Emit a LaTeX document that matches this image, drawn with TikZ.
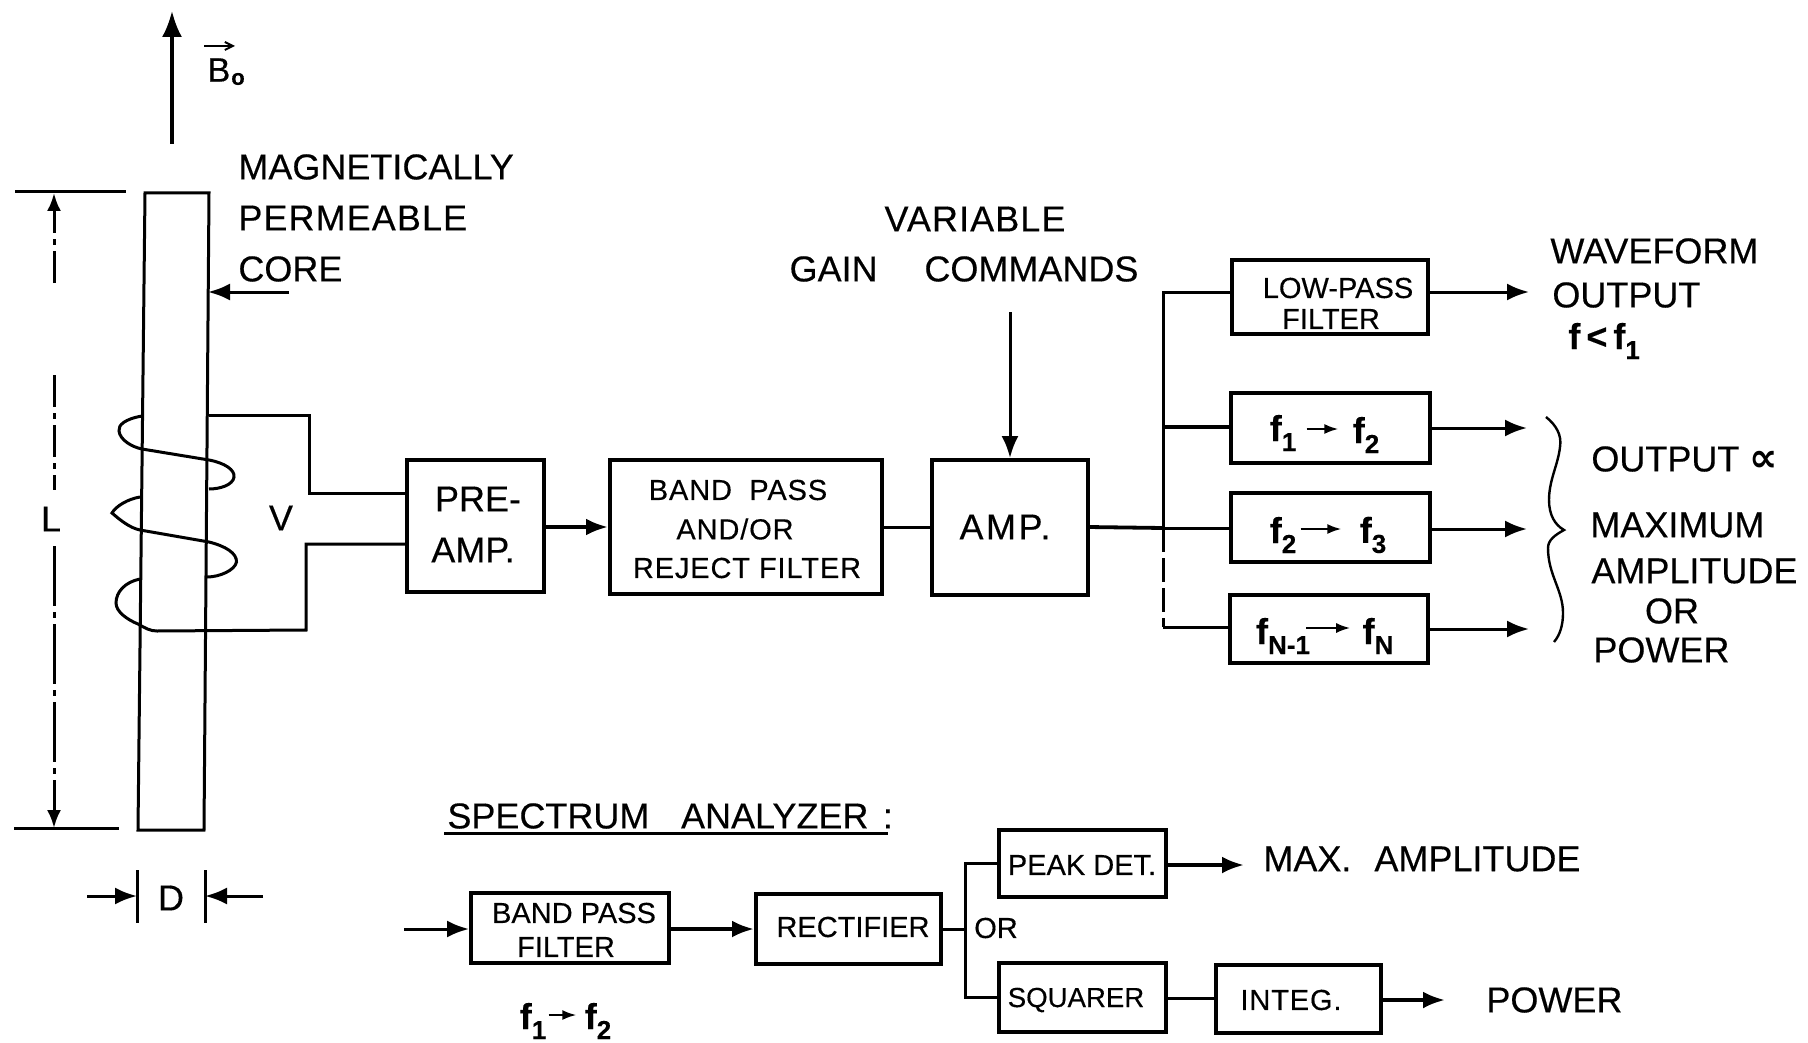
\documentclass[tikz,border=0pt]{standalone}
\usepackage{fontspec}
\setmainfont{Liberation Sans}[FakeBold=0.35]
\newfontfamily\symfont{DejaVu Sans}
\usetikzlibrary{arrows.meta,fit}
\newcommand\ssb[1]{\raisebox{-5pt}{\fontsize{13}{14}\selectfont #1}}
\newcommand\pbox[6]{\path (#2,#3) coordinate (#1-a) (#4,#5) coordinate (#1-b);\node[bx,fit=(#1-a)(#1-b)] (#1) {};#6}
\tikzset{
  wire/.style={line width=1.5pt,line join=miter},
  arr/.style={wire,-{Latex[length=11pt,width=8.5pt]}},
  sarr/.style={line width=1.1pt,-{Latex[length=7pt,width=5pt]}},
  bx/.style={draw,line width=2pt,inner sep=0pt,rectangle},
  big/.style={inner sep=0pt,font=\fontsize{18}{20}\selectfont},
  bigs/.style={inner sep=0pt,font=\fontsize{18}{20}\selectfont\addfontfeature{LetterSpace=3}},
  mid/.style={inner sep=0pt,font=\fontsize{14.5}{16}\selectfont},
  mids/.style={inner sep=0pt,font=\fontsize{14.5}{16}\selectfont\addfontfeature{LetterSpace=3}},
  ff/.style={inner sep=0pt,font=\fontsize{18}{20}\selectfont\bfseries},
}
\begin{document}
\begin{tikzpicture}[x=0.5pt,y=-0.5pt]
\useasboundingbox (0,0) rectangle (1808,1043);
% field arrow
\coordinate (b0s) at (172,144); \coordinate (b0e) at (172,11);
\draw[line width=1.6pt,-{Latex[length=13pt,width=10pt]}] (b0s) -- (b0e);
\node[big,font=\fontsize{17}{20}\selectfont] (bo) at (219,70) {B};
\node[inner sep=0pt,font=\fontsize{11}{12}\selectfont\bfseries] (boo) at (238,79) {o};
\coordinate (bva) at (204,46); \coordinate (bvb) at (235,46);
\draw[line width=1pt,-{Straight Barb[length=4pt,width=4pt]}] (bva) -- (bvb);
% core
\draw[wire] (145,193) -- (209,193) -- (204,830) -- (138,830) -- cycle;
\node[big,anchor=west] (mag) at (238,167) {MAGNETICALLY};
\node[bigs,anchor=west] (perm) at (238,218) {PERMEABLE};
\node[big,anchor=west] (corel) at (238,269) {CORE};
\coordinate (cs) at (289,292); \coordinate (ce) at (208,292);
\draw[arr] (cs) -- (ce);
% L dimension
\draw[wire] (15,192) -- (126,192);
\draw[wire] (14,828) -- (119,828);
\node[big] (Ll) at (51,519) {L};
\coordinate (L1) at (54,283); \coordinate (L2) at (54,193); \coordinate (L3) at (54,375); \coordinate (L4) at (54,490);
\coordinate (L5) at (54,546); \coordinate (L6) at (54,828);
\draw[wire,dash pattern=on 16pt off 3pt on 3pt off 3pt,-{Latex[length=9pt,width=7pt]}] (L1) -- (L2);
\draw[wire,dash pattern=on 16pt off 3pt on 3pt off 3pt] (L3) -- (L4);
\draw[wire,dash pattern=on 30pt off 3pt on 3pt off 3pt,-{Latex[length=9pt,width=7pt]}] (L5) -- (L6);
% D dimension
\draw[wire] (137,870) -- (137,923);
\draw[wire] (205,870) -- (205,923);
\node[big] (Dl) at (171,898) {D};
\coordinate (Da) at (87,896); \coordinate (Db) at (137,896); \coordinate (Dc) at (263,896); \coordinate (Dd) at (205,896);
\draw[arr] (Da) -- (Db);
\draw[arr] (Dc) -- (Dd);
% blocks
\pbox{pre}{407}{460}{544}{592}{}
\node[big] (t1) at (478,499) {PRE-};
\node[big] (t2) at (473,550) {AMP.};
\pbox{bp}{610}{460}{882}{594}{}
\node[mids] (t3) at (738,490) {BAND\hspace{.6em}PASS};
\node[mids] (t4) at (735,529) {AND/OR};
\node[mids] (t5) at (747,568) {REJECT FILTER};
\pbox{amp}{932}{460}{1088}{595}{}
\node[big,font=\fontsize{18}{20}\selectfont\addfontfeature{LetterSpace=7}] (t6) at (1005,527) {AMP.};
% coil
\draw[wire] (142,416) .. controls (125,419) and (118,425) .. (119,431) .. controls (120,440) and (132,447) .. (142,449) -- (209,460) .. controls (225,463) and (235,470) .. (234,477) .. controls (233,485) and (220,489) .. (209,489);
\draw[wire] (140,497) .. controls (128,499) and (116,506) .. (112,513) .. controls (120,520) and (130,528) .. (140,530) -- (209,542) .. controls (225,546) and (237,553) .. (236.5,562) .. controls (235,570) and (220,577) .. (207,577);
\coordinate (w2) at (306,544); \coordinate (w1) at (309,493);
\draw[wire] (140,579) .. controls (125,582) and (116,592) .. (116,603) .. controls (116,612) and (128,620) .. (138,624) .. controls (145,628) and (150,631) .. (157,631) -- (306,630) -- (w2) -- (w2 -| pre.west);
\draw[wire] (209,415) -- (309,415) -- (w1) -- (w1 -| pre.west);
\node[big] (V) at (281,518) {V};
% main chain
\coordinate (m1) at (544,527); \coordinate (m2) at (882,527); \coordinate (m3) at (1088,527);
\draw[arr,line width=1.9pt] (m1) -- (m1 -| bp.west);
\draw[wire] (m2) -- (m2 -| amp.west);
\node[bigs] (var) at (975,219) {VARIABLE};
\node[big] (gain) at (964,269) {GAIN\hspace{1.3em}COMMANDS};
\coordinate (gc) at (1010,312);
\draw[arr] (gc) -- (gc |- amp.north);
% filter bank
\pbox{lp}{1232}{260}{1428}{334}{}
\node[mid] (t7) at (1338,288) {LOW-PASS};
\node[mid] (t8) at (1331,319) {FILTER};
\pbox{fa}{1231}{393}{1430}{463}{}
\pbox{fb}{1231}{493}{1430}{562}{}
\pbox{fc}{1230}{595}{1428}{663}{}
\coordinate (busT) at (1163,292); \coordinate (bus1) at (1163,427); \coordinate (bus2) at (1163,528); \coordinate (busB) at (1163,627);
\draw[wire] (busT -| lp.west) -- (busT) -- (bus2);
\draw[wire,line width=1.9pt] (bus1) -- (bus1 -| fa.west);
\draw[wire,line width=1.9pt] (m3) -- (bus2);
\draw[wire] (bus2) -- (bus2 -| fb.west);
\draw[wire,dash pattern=on 12pt off 3pt] (bus2) -- (busB);
\draw[wire] (busB) -- (busB -| fc.west);
\coordinate (o0) at (1529,292); \coordinate (o1) at (1527,428); \coordinate (o2) at (1527,529); \coordinate (o3) at (1529,629);
\draw[arr] (o0 -| lp.east) -- (o0);
\draw[arr] (o1 -| fa.east) -- (o1);
\draw[arr] (o2 -| fb.east) -- (o2);
\draw[arr] (o3 -| fc.east) -- (o3);
% f labels
\node[ff] (f1) at (1283,433) {f\ssb{1}};
\node[ff] (f2) at (1366,435) {f\ssb{2}};
\draw[sarr] ([xshift=5pt,yshift=2pt]f1.east) -- ([xshift=-7pt,yshift=3pt]f2.west);
\node[ff] (f3) at (1283,535) {f\ssb{2}};
\node[ff] (f4) at (1373,535) {f\ssb{3}};
\draw[sarr] ([xshift=2pt,yshift=3pt]f3.east) -- ([xshift=-9pt,yshift=3pt]f4.west);
\node[ff] (f5) at (1283,636) {f\ssb{N-1}};
\node[ff] (f6) at (1378,636) {f\ssb{N}};
\draw[sarr] ([xshift=-2pt,yshift=4pt]f5.east) -- ([xshift=-6pt,yshift=4pt]f6.west);
% right labels
\node[big,anchor=west] (wvf) at (1550,251) {WAVEFORM};
\node[big,anchor=west] (oup) at (1552,295) {OUTPUT};
\node[ff,anchor=west] (flt) at (1568,341) {f\,<\,f\ssb{1}};
\draw[line width=1.2pt] (1546,417) .. controls (1556,425) and (1562,435) .. (1560,447) .. controls (1558,465) and (1549,480) .. (1549,500) .. controls (1549,515) and (1555,525) .. (1564,530) .. controls (1555,535) and (1548,540) .. (1548,548) .. controls (1548,575) and (1563,590) .. (1563,613) .. controls (1563,625) and (1560,635) .. (1554,642);
\node[big,anchor=west] (oa) at (1591,459) {OUTPUT {\symfont\bfseries\fontsize{20}{20}\selectfont ∝}};
\node[big,anchor=west] (ma) at (1590,525) {MAXIMUM};
\node[big,anchor=west] (am) at (1591,571) {AMPLITUDE};
\node[big] (orr) at (1672,611) {OR};
\node[big,anchor=west] (pw) at (1593,650) {POWER};
% spectrum analyzer
\node[big,anchor=west] (sa) at (447,816) {SPECTRUM\hspace{.88em}ANALYZER\hspace{.4em}:};
\coordinate (ul1) at (444,833); \coordinate (ul2) at (888,833);
\draw[wire] (ul1) -- (ul2);
\pbox{sbp}{471}{893}{669}{963}{}
\node[mid] (t9) at (574,913) {BAND PASS};
\node[mid] (t10) at (566,947) {FILTER};
\pbox{rec}{756}{894}{941}{964}{}
\node[mid] (t11) at (853,927) {RECTIFIER};
\pbox{pk}{999}{830}{1166}{897}{}
\node[mid] (t12) at (1082,865) {PEAK DET.};
\pbox{sq}{999}{963}{1166}{1032}{}
\node[mid,font=\fontsize{13.8}{16}\selectfont] (t13) at (1076,1000) {SQUARER};
\pbox{ig}{1216}{965}{1381}{1033}{}
\node[mids] (t14) at (1291,1000) {INTEG.};
\coordinate (s0) at (404,929); \coordinate (s1) at (669,929); \coordinate (s2) at (941,929);
\coordinate (sb) at (965,929); \coordinate (sbt) at (965,863); \coordinate (sbb) at (965,997);
\draw[arr] (s0) -- (s0 -| sbp.west);
\draw[arr,line width=1.9pt] (s1) -- (s1 -| rec.west);
\draw[wire] (s2) -- (sb);
\draw[wire] (sbt -| pk.west) -- (sbt) -- (sbb) -- (sbb -| sq.west);
\coordinate (p1) at (1166,865); \coordinate (p2) at (1244,865);
\draw[arr,line width=1.9pt] (p1) -- (p2);
\coordinate (q1) at (1166,998);
\draw[wire] (q1) -- (q1 -| ig.west);
\coordinate (r1) at (1381,1000); \coordinate (r2) at (1445,1000);
\draw[arr,line width=1.9pt] (r1) -- (r2);
\node[big] (orb) at (996,928) {\fontsize{14.5}{16}\selectfont OR};
\node[big,anchor=west] (maxa) at (1263,859) {MAX.\hspace{.64em}AMPLITUDE};
\node[big,anchor=west] (pw2) at (1486,1000) {POWER};
\node[ff] (f7) at (533,1021) {f\ssb{1}};
\node[ff] (f8) at (598,1021) {f\ssb{2}};
\draw[sarr] ([xshift=1pt,yshift=3pt]f7.east) -- ([xshift=-4pt,yshift=3pt]f8.west);
\end{tikzpicture}
\end{document}
